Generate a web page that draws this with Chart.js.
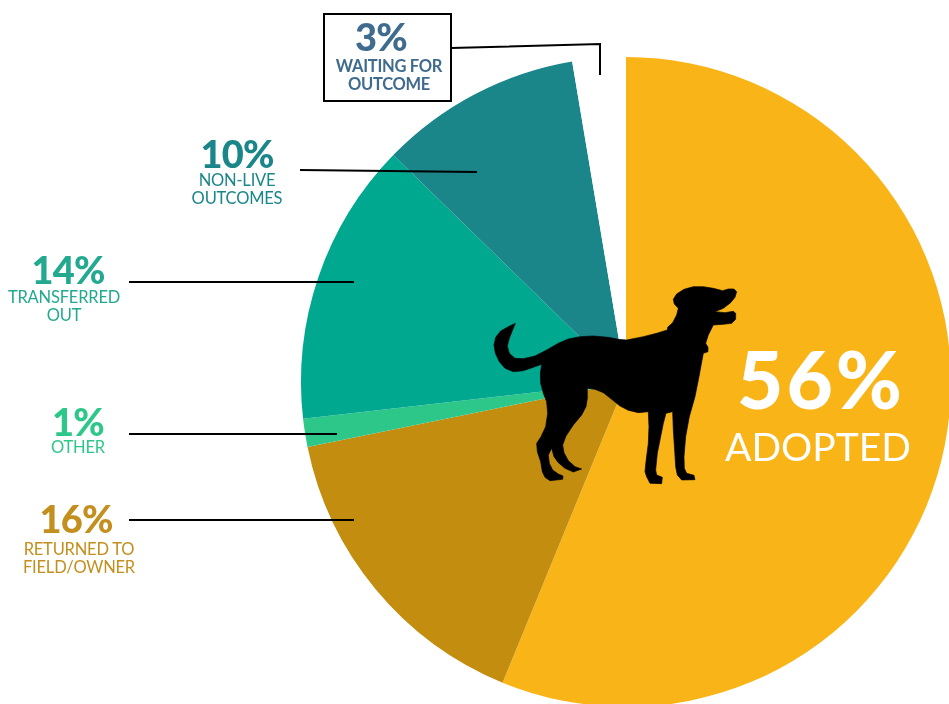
<!DOCTYPE html>
<html><head><meta charset="utf-8">
<script src="https://cdn.jsdelivr.net/npm/chart.js@4"></script>
<style>
html,body{margin:0;padding:0;background:#fff;overflow:hidden}
#stage{position:relative;width:949px;height:704px;overflow:hidden;font-family:Lato,sans-serif}
canvas{position:absolute;left:0;top:0}
svg{position:absolute;left:0;top:0}
.lab{position:absolute;text-align:center;white-space:nowrap;transform:translateX(-50%)}
.lab b{display:block;font-size:38px;line-height:32px;font-weight:900;letter-spacing:-.8px}
.lab span{display:block;font-size:16.5px;line-height:18px;font-weight:400;letter-spacing:-.2px}
#box{position:absolute;left:323px;top:13px;width:125px;height:85px;border:2px solid #000;background:#fff}
</style></head>
<body><div id="stage">
<canvas id="c" width="1252" height="764"></canvas>
<svg width="949" height="704" viewBox="0 0 949 704">
<g fill="none" stroke="#000" stroke-width="2">
<path d="M300 170L477 172"/><path d="M129 282H354"/><path d="M129 434H337"/><path d="M129 520H354"/>
<path d="M451 48L600 44V75"/>
</g>
<g transform="translate(480 270) scale(.3333)">
<polygon fill="#000" stroke="#000" stroke-width="2" stroke-linejoin="round" points="106,160 85,170 62,183 47,202 42,225 46,250 58,275 75,295 100,305 130,302 160,292 185,283 181,310 182,340 190,370 200,395 203,430 197,470 183,500 170,520 172,545 182,575 187,605 195,622 210,632 248,628 249,618 235,612 218,600 208,580 205,555 215,535 222,560 235,578 255,595 280,606 305,597 285,590 265,572 252,548 248,525 258,498 280,465 305,435 318,410 322,385 322,355 345,358 370,368 395,388 420,408 445,421 475,428 505,425 507,470 505,520 498,575 495,605 500,620 510,640 545,641 547,622 530,615 527,600 532,550 540,510 550,460 558,430 578,425 580,480 584,540 587,590 592,615 605,630 645,629 642,616 620,610 613,595 612,560 617,500 628,440 645,380 657,320 670,250 684,245 684,232 677,220 685,195 700,165 730,163 755,160 767,148 767,130 760,124 735,128 705,125 730,115 752,98 765,82 770,65 762,57 745,57 728,62 700,55 670,50 640,50 612,58 590,72 580,88 583,102 595,115 590,135 578,158 563,172 562,180 530,190 490,200 440,210 415,208 385,202 340,198 300,200 265,207 235,220 200,240 165,258 130,266 105,265 88,250 82,228 88,205 97,182"/>
</g>
</svg>
<div id="box"></div>
<div id="labels"></div>
</div>
<script>
const categories=["ADOPTED","RETURNED TO FIELD/OWNER","OTHER","TRANSFERRED OUT","NON-LIVE OUTCOMES","WAITING FOR OUTCOME"];
const sublines=[["ADOPTED"],["RETURNED TO","FIELD/OWNER"],["OTHER"],["TRANSFERRED","OUT"],["NON-LIVE","OUTCOMES"],["WAITING FOR","OUTCOME"]];
const percentLabels=[56,16,1,14,10,3];
const sliceShares=[56.2,15.6,1.4,14.1,10.05,2.65];
const sliceColors=["#F9B418","#C38D10","#2EC78A","#00A88F","#1B868A","#FFFFFF"];
const textColors=["#FFFFFF","#C38F1E","#2EC78A","#22A98F","#1B868A","#3F6B8F"];
const labelX=[818,79,78,64,237,389];
const labelY=[336,502,405,253,137,20];
const numberShift=[3,-3,0,4,0,-8];
const subGap=[6,6,1,3,2,5];

new Chart(document.getElementById('c'),{
  type:'pie',
  data:{labels:categories,datasets:[{data:sliceShares,backgroundColor:sliceColors,borderWidth:0,hoverOffset:0}]},
  options:{responsive:false,animation:false,events:[],
    layout:{padding:{top:57,bottom:57,left:0,right:0}},
    plugins:{legend:{display:false},tooltip:{enabled:false}}}
});
const host=document.getElementById('labels');
categories.forEach((c,i)=>{
  const d=document.createElement('div');
  d.className='lab';
  d.style.left=labelX[i]+'px';d.style.top=labelY[i]+'px';d.style.color=textColors[i];
  const b=document.createElement('b');b.textContent=percentLabels[i]+'%';
  b.style.position='relative';b.style.left=numberShift[i]+'px';b.style.marginBottom=subGap[i]+'px';
  d.appendChild(b);
  sublines[i].forEach(t=>{const s=document.createElement('span');s.textContent=t;d.appendChild(s);});
  if(i===0){b.style.fontSize='80px';b.style.lineHeight='84px';b.style.letterSpacing='3px';d.lastChild.style.cssText='font-size:39px;line-height:40px;letter-spacing:0';}
  if(i===5){[...d.querySelectorAll('span')].forEach(s=>{s.style.fontWeight='700';s.style.letterSpacing='-.3px'});}
  host.appendChild(d);
});
</script>
</body></html>
